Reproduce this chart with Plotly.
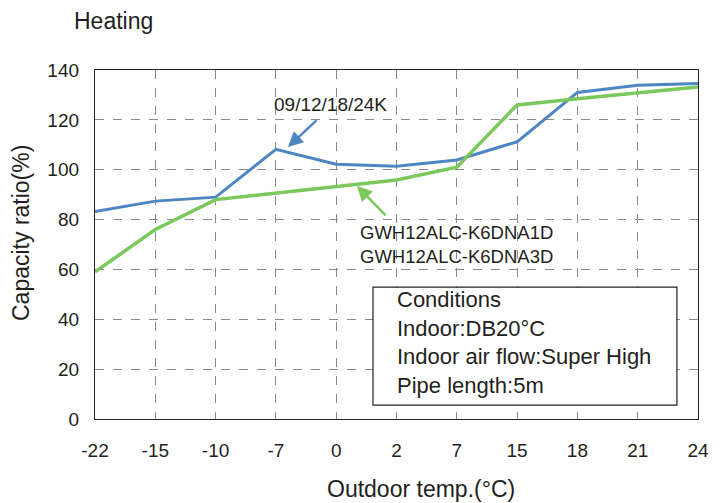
import plotly.graph_objects as go

temps = ["-22", "-15", "-10", "-7", "0", "2", "7", "15", "18", "21", "24"]
blue_vals = [83.2, 87.4, 89.0, 108.2, 102.2, 101.4, 103.9, 111.2, 131.0, 133.9, 134.6]
green_vals = [59.0, 76.0, 88.0, 90.7, 93.5, 95.9, 101.0, 126.0, 128.5, 131.0, 133.2]
y_ticks = [0, 20, 40, 60, 80, 100, 120, 140]

BLUE = "#4d86c2"
GREEN = "#7bc85c"
TXT = "#231f20"
FONT = "Liberation Sans, Arial, sans-serif"

fig = go.Figure()
fig.add_trace(go.Scatter(x=temps, y=blue_vals, mode="lines",
                         line=dict(color=BLUE, width=3), showlegend=False))
fig.add_trace(go.Scatter(x=temps, y=green_vals, mode="lines",
                         line=dict(color=GREEN, width=3.5), showlegend=False))

# page body has an 8px margin, so the figure is sized to fit the window
fig.update_layout(
    width=718, height=495,
    margin=dict(l=87, r=28, t=62, b=84),
    paper_bgcolor="white", plot_bgcolor="white",
    font=dict(family=FONT, size=16, color=TXT),
    xaxis=dict(type="category", range=[0, 10], categoryorder="array",
               categoryarray=temps, automargin=False,
               showgrid=True, gridcolor="#8a8a8a", griddash="dash", gridwidth=1,
               showline=True, linecolor="#222", linewidth=1.3, mirror=True,
               ticks="", ticklabelstandoff=14,
               tickfont=dict(size=19, color=TXT),
               zeroline=False),
    yaxis=dict(range=[0, 140], tickvals=y_ticks, automargin=False,
               showgrid=True, gridcolor="#8a8a8a", griddash="dash", gridwidth=1,
               showline=True, linecolor="#222", linewidth=1.3, mirror=True,
               ticks="", ticklabelstandoff=11,
               tickfont=dict(size=19, color=TXT),
               zeroline=False),
)

# Titles
fig.add_annotation(xref="paper", yref="paper", x=-0.0381, y=1.1404,
                   text="Heating", showarrow=False, xanchor="left", yanchor="middle",
                   font=dict(size=23, color=TXT))
fig.add_annotation(xref="paper", yref="paper", x=0.541, y=-0.2006,
                   text="Outdoor temp.(°C)", showarrow=False, xanchor="center", yanchor="middle",
                   font=dict(size=23, color=TXT))
fig.add_annotation(xref="paper", yref="paper", x=-0.1227, y=0.533, textangle=-90,
                   text="Capacity ratio(%)", showarrow=False, xanchor="center", yanchor="middle",
                   font=dict(size=23, color=TXT))

# Blue label with arrow
fig.add_annotation(x=3.2, y=109.1, text="", showarrow=True, arrowhead=2, arrowsize=1.2,
                   arrowwidth=2.5, arrowcolor=BLUE, ax=30, ay=-28, standoff=0)
fig.add_annotation(x=3.90, y=126, text="09/12/18/24K", showarrow=False,
                   font=dict(size=19, color=TXT), xanchor="center", yanchor="middle")

# Green label with arrow
fig.add_annotation(x=4.345, y=93.5, text="", showarrow=True, arrowhead=2, arrowsize=1.2,
                   arrowwidth=2.5, arrowcolor=GREEN, ax=30, ay=31, standoff=0)
fig.add_annotation(x=6.0, y=70.0, text="GWH12ALC-K6DNA1D<br>GWH12ALC-K6DNA3D",
                   showarrow=False, font=dict(size=18.5, color=TXT),
                   xanchor="center", yanchor="middle", align="left")

# Conditions box
fig.add_shape(type="rect", xref="x", yref="y", x0=4.61, x1=9.65, y0=5.6, y1=52.9,
              line=dict(color="#222", width=1.2), fillcolor="white", layer="above")
fig.add_annotation(x=4.975, y=30.7, xanchor="left", yanchor="middle", align="left",
                   text="Conditions<br>Indoor:DB20°C<br>Indoor air flow:Super High<br>Pipe length:5m",
                   showarrow=False, font=dict(size=22, color=TXT))

fig.write_html("out.html")
